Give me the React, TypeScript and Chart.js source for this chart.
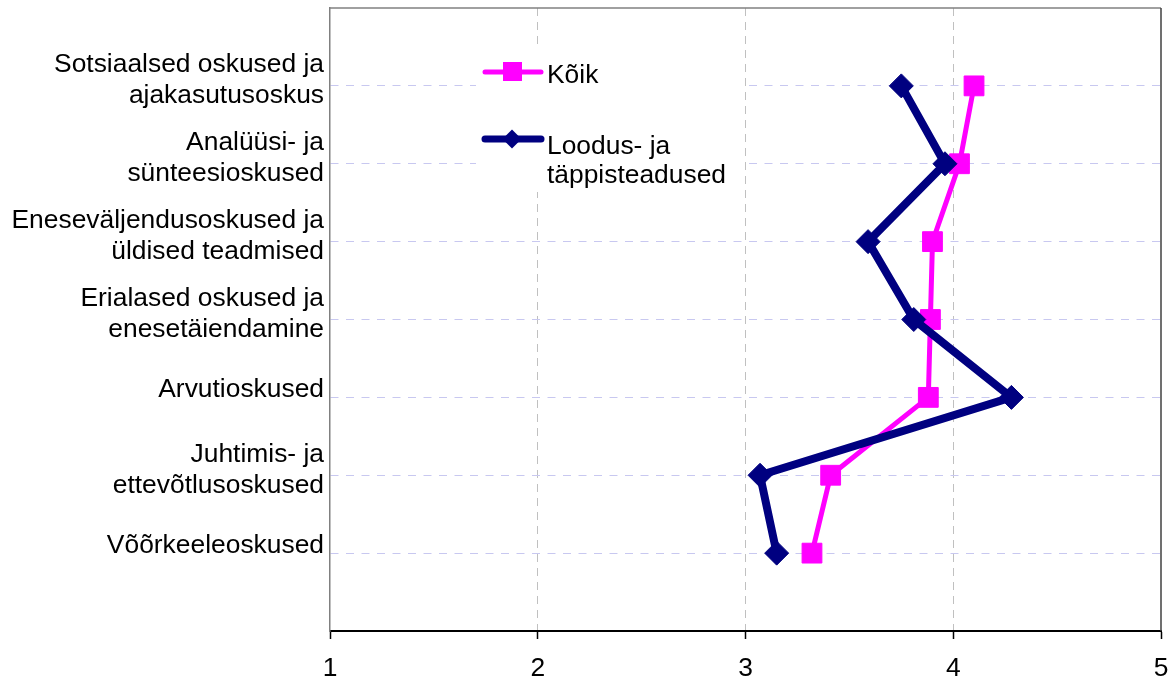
import React, { useEffect, useRef } from "react";
import { Chart, registerables } from "chart.js";

Chart.register(...registerables);

const categories: string[][] = [
  ["Sotsiaalsed oskused ja", "ajakasutusoskus"],
  ["Analüüsi- ja", "sünteesioskused"],
  ["Eneseväljendusoskused ja", "üldised teadmised"],
  ["Erialased oskused ja", "enesetäiendamine"],
  ["Arvutioskused"],
  ["Juhtimis- ja", "ettevõtlusoskused"],
  ["Võõrkeeleoskused"],
];

const koik: number[] = [4.1, 4.03, 3.9, 3.89, 3.88, 3.41, 3.32];
const loodus: number[] = [3.75, 3.96, 3.59, 3.81, 4.28, 3.07, 3.15];

const seriesNames: string[][] = [["Kõik"], ["Loodus- ja", "täppisteadused"]];
const xTicks: number[] = [1, 2, 3, 4, 5];

const FONT = "'Liberation Sans', Arial, sans-serif";
const FONT_SIZE = 26.4;
const MAGENTA = "#FF00FF";
const NAVY = "#000080";

const framePlugin = {
  id: "frame",
  afterDatasetsDraw(chart: any) {
    const { ctx, chartArea } = chart;
    const yScale = chart.scales.y;
    ctx.save();
    // top border
    ctx.strokeStyle = "#808080";
    ctx.lineWidth = 1.5;
    ctx.beginPath();
    ctx.moveTo(chartArea.left, chartArea.top);
    ctx.lineTo(chartArea.right, chartArea.top);
    ctx.stroke();
    // right border
    ctx.strokeStyle = "#404040";
    ctx.lineWidth = 1.5;
    ctx.beginPath();
    ctx.moveTo(chartArea.right, chartArea.top);
    ctx.lineTo(chartArea.right, chartArea.bottom);
    ctx.stroke();

    // category labels on the y axis
    ctx.fillStyle = "#000";
    ctx.font = `${FONT_SIZE}px ${FONT}`;
    ctx.textAlign = "right";
    ctx.textBaseline = "alphabetic";
    categories.forEach((lines, i) => {
      const py = yScale.getPixelForValue(i + 1);
      const offsets = lines.length === 1 ? [0] : [-13.5, 17.5];
      lines.forEach((t, j) => ctx.fillText(t, chartArea.left - 6, py + offsets[j]));
    });

    // legend
    ctx.fillStyle = "#ffffff";
    ctx.fillRect(476, 50, 269, 142);

    ctx.strokeStyle = MAGENTA;
    ctx.lineWidth = 5;
    ctx.lineCap = "round";
    ctx.beginPath();
    ctx.moveTo(485, 72);
    ctx.lineTo(541, 72);
    ctx.stroke();
    ctx.fillStyle = MAGENTA;
    ctx.fillRect(503, 62, 19, 19);

    ctx.strokeStyle = NAVY;
    ctx.lineWidth = 7;
    ctx.beginPath();
    ctx.moveTo(485, 139);
    ctx.lineTo(541, 139);
    ctx.stroke();
    ctx.fillStyle = NAVY;
    ctx.beginPath();
    ctx.moveTo(512, 129.5);
    ctx.lineTo(521.5, 139);
    ctx.lineTo(512, 148.5);
    ctx.lineTo(502.5, 139);
    ctx.closePath();
    ctx.fill();

    ctx.fillStyle = "#000";
    ctx.textAlign = "left";
    ctx.fillText(seriesNames[0][0], 547, 83);
    ctx.fillText(seriesNames[1][0], 547, 154);
    ctx.fillText(seriesNames[1][1], 547, 183);
    ctx.restore();
  },
};

export default function App() {
  const canvasRef = useRef<HTMLCanvasElement | null>(null);

  useEffect(() => {
    if (!canvasRef.current) return;
    const chart = new Chart(canvasRef.current, {
      type: "scatter",
      data: {
        datasets: [
          {
            label: seriesNames[0].join(" "),
            data: koik.map((v, i) => ({ x: v, y: i + 1 })),
            showLine: true,
            borderColor: MAGENTA,
            backgroundColor: MAGENTA,
            borderWidth: 5,
            pointStyle: "rect",
            pointRadius: 14,
            pointBorderWidth: 1,
            pointBorderColor: MAGENTA,
            pointBackgroundColor: MAGENTA,
            order: 2,
          },
          {
            label: seriesNames[1].join(" "),
            data: loodus.map((v, i) => ({ x: v, y: i + 1 })),
            showLine: true,
            borderColor: NAVY,
            backgroundColor: NAVY,
            borderWidth: 8,
            pointStyle: "rectRot",
            pointRadius: 12,
            pointBorderWidth: 1,
            pointBorderColor: NAVY,
            pointBackgroundColor: NAVY,
            order: 1,
          },
        ],
      },
      options: {
        responsive: false,
        animation: false,
        devicePixelRatio: 1,
        layout: { autoPadding: false, padding: { top: 8, right: 15, left: 0, bottom: 0 } },
        plugins: {
          legend: { display: false },
          tooltip: { enabled: false },
        },
        scales: {
          x: {
            type: "linear",
            min: 1,
            max: 5,
            afterBuildTicks: (scale: any) => {
              scale.ticks = xTicks.map((v) => ({ value: v }));
            },
            afterFit: (scale: any) => {
              scale.height = 48;
              scale.paddingLeft = 0;
              scale.paddingRight = 0;
            },
            ticks: {
              color: "#000",
              font: { family: FONT, size: FONT_SIZE },
              padding: 14,
              maxRotation: 0,
            },
            grid: {
              color: (ctx: any) =>
                ctx.tick && ctx.tick.value > 1 && ctx.tick.value < 5 ? "#c0c0c0" : "rgba(0,0,0,0)",
              tickColor: "#000",
              tickLength: 8,
              lineWidth: 1,
              tickWidth: 1.5,
            },
            border: { display: true, color: "#000", width: 2, dash: [8, 6] },
          },
          y: {
            type: "linear",
            min: 0,
            max: 8,
            reverse: true,
            afterFit: (scale: any) => {
              scale.width = 330;
              scale.paddingTop = 0;
              scale.paddingBottom = 0;
            },
            ticks: {
              stepSize: 1,
              display: false,
            },
            grid: {
              color: (ctx: any) =>
                ctx.tick && ctx.tick.value >= 1 && ctx.tick.value <= 7 ? "#c8c8f0" : "rgba(0,0,0,0)",
              lineWidth: 1,
              drawTicks: false,
            },
            border: { display: true, color: "#808080", width: 1.5, dash: [8, 7.5] },
          },
        },
      },
      plugins: [framePlugin],
    } as any);
    return () => chart.destroy();
  }, []);

  return (
    <div style={{ position: "absolute", left: 0, top: 0, width: 1176, height: 679, background: "#fff" }}>
      <canvas ref={canvasRef} width={1176} height={679} style={{ display: "block" }} />
    </div>
  );
}
